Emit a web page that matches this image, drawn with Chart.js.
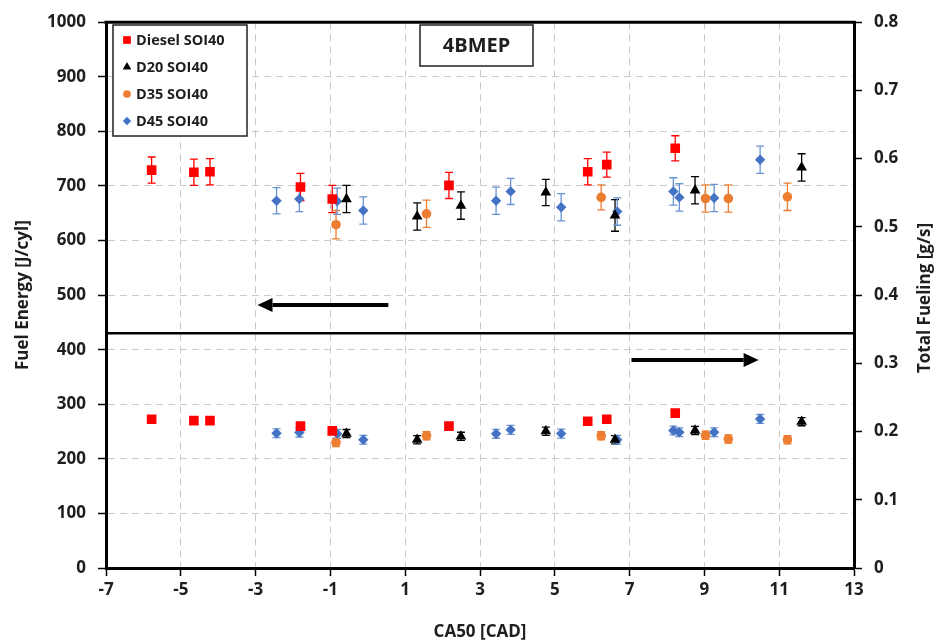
<!DOCTYPE html>
<html>
<head>
<meta charset="utf-8">
<title>CA50 - Fuel Energy / Total Fueling</title>
<script src="https://cdn.jsdelivr.net/npm/chart.js@4.4.0/dist/chart.umd.min.js"></script>
<style>
    html, body { margin: 0; padding: 0; background: #fff; }
</style>
</head>
<body>
<canvas id="fuel-chart" width="937" height="642"></canvas>
<script>
// ---- data (CA50 in CAD, energy in J/cyl, fueling in g/s) ----
const dieselCA50 = [-5.78, -4.65, -4.22, -1.80, -0.95, 2.17, 5.88, 6.39, 8.22];
const dieselEnergy = [729, 725, 726, 698, 676, 701, 726, 739, 769];
const dieselEnergyErr = [24, 24, 24, 25, 25, 24, 24, 23, 23];
const dieselFueling = [0.218, 0.216, 0.216, 0.208, 0.201, 0.208, 0.215, 0.218, 0.227];
const dieselFuelingErr = [0.004, 0.004, 0.004, 0.004, 0.004, 0.004, 0.004, 0.004, 0.004];

const d20CA50 = [-0.57, 1.32, 2.49, 4.76, 6.61, 8.75, 11.60];
const d20Energy = [676, 644, 664, 688, 646, 692, 734];
const d20EnergyErr = [25, 25, 25, 24, 29, 25, 25];
const d20Fueling = [0.197, 0.188, 0.193, 0.2005, 0.188, 0.2015, 0.2145];
const d20FuelingErr = [0.006, 0.006, 0.006, 0.006, 0.006, 0.006, 0.006];

const d35CA50 = [-0.85, 1.57, 6.24, 9.03, 9.64, 11.22];
const d35Energy = [629, 649, 679, 677, 677, 680];
const d35EnergyErr = [26, 25, 23, 25, 25, 25];
const d35Fueling = [0.184, 0.194, 0.194, 0.1945, 0.189, 0.188];
const d35FuelingErr = [0.006, 0.006, 0.006, 0.006, 0.006, 0.006];

const d45CA50 = [-2.44, -1.83, -0.82, -0.12, 3.43, 3.82, 5.17, 6.67, 8.17, 8.33, 9.26, 10.49];
const d45Energy = [673, 676, 672, 655, 673, 690, 661, 653, 690, 679, 678, 748];
const d45EnergyErr = [24, 23, 24, 25, 25, 24, 25, 25, 25, 25, 25, 25];
const d45Fueling = [0.1975, 0.1985, 0.1967, 0.188, 0.1967, 0.2025, 0.197, 0.188, 0.2015, 0.199, 0.199, 0.2185];
const d45FuelingErr = [0.0065, 0.0065, 0.0065, 0.0065, 0.0065, 0.0065, 0.0065, 0.0065, 0.0065, 0.0065, 0.0065, 0.0065];

// ---- axes ----
const xTicks = [-7, -5, -3, -1, 1, 3, 5, 7, 9, 11, 13];
const energyTicks = [0, 100, 200, 300, 400, 500, 600, 700, 800, 900, 1000];
const fuelingTicks = [0, 0.1, 0.2, 0.3, 0.4, 0.5, 0.6, 0.7, 0.8];

// panel divider (J/cyl) and the two direction arrows [x tail, x head, y]
const dividerEnergy = 430;
const energyArrow = [0.55, -2.95, 482];
const fuelingArrow = [7.05, 10.45, 0.305];

const FONT = '"Open Sans", Lato, sans-serif';
const TXT = '#1e1e1e';

function toPoints(xs, ys) {
    return xs.map((x, i) => ({ x: x, y: ys[i] }));
}

const series = [
    { label: 'Diesel SOI40', style: 'rect', r: 6.8, color: '#FF0000', bar: '#FF0000',
      x: dieselCA50, e: dieselEnergy, eErr: dieselEnergyErr, f: dieselFueling, fErr: dieselFuelingErr },
    { label: 'D20 SOI40', style: 'triangle', r: 6.2, color: '#000000', bar: '#000000',
      x: d20CA50, e: d20Energy, eErr: d20EnergyErr, f: d20Fueling, fErr: d20FuelingErr },
    { label: 'D35 SOI40', style: 'circle', r: 4.8, color: '#ED7D31', bar: '#ED7D31',
      x: d35CA50, e: d35Energy, eErr: d35EnergyErr, f: d35Fueling, fErr: d35FuelingErr },
    { label: 'D45 SOI40', style: 'rectRot', r: 5.2, color: '#4472C4', bar: '#6A93D4',
      x: d45CA50, e: d45Energy, eErr: d45EnergyErr, f: d45Fueling, fErr: d45FuelingErr }
];

const datasets = [];
series.forEach(s => {
    datasets.push({
        label: s.label, yAxisID: 'y', data: toPoints(s.x, s.e), errors: s.eErr, barColor: s.bar,
        pointStyle: s.style, pointRadius: s.r, pointHoverRadius: s.r,
        backgroundColor: s.color, borderColor: s.color, borderWidth: 0
    });
    datasets.push({
        label: s.label + ' fueling', yAxisID: 'y2', data: toPoints(s.x, s.f), errors: s.fErr, barColor: s.bar,
        pointStyle: s.style, pointRadius: s.r, pointHoverRadius: s.r,
        backgroundColor: s.color, borderColor: s.color, borderWidth: 0
    });
});

// vertical error bars with caps, drawn under the markers
const errorBars = {
    id: 'errorBars',
    beforeDatasetsDraw(chart) {
        const ctx = chart.ctx;
        chart.data.datasets.forEach((ds, di) => {
            if (!ds.errors) return;
            const meta = chart.getDatasetMeta(di);
            const ys = chart.scales[ds.yAxisID];
            ctx.save();
            ctx.strokeStyle = ds.barColor;
            ctx.lineWidth = 1.3;
            meta.data.forEach((pt, i) => {
                const v = ds.data[i].y;
                const err = ds.errors[i];
                const top = ys.getPixelForValue(v + err);
                const bot = ys.getPixelForValue(v - err);
                const x = pt.x;
                ctx.beginPath();
                ctx.moveTo(x, top); ctx.lineTo(x, bot);
                ctx.moveTo(x - 4, top); ctx.lineTo(x + 4, top);
                ctx.moveTo(x - 4, bot); ctx.lineTo(x + 4, bot);
                ctx.stroke();
            });
            ctx.restore();
        });
    }
};

function drawArrow(ctx, x1, x2, y) {
    const dir = x2 > x1 ? 1 : -1;
    const headLen = 15, headHalf = 7;
    ctx.beginPath();
    ctx.moveTo(x1, y);
    ctx.lineTo(x2 - dir * headLen, y);
    ctx.stroke();
    ctx.beginPath();
    ctx.moveTo(x2, y);
    ctx.lineTo(x2 - dir * headLen, y - headHalf);
    ctx.lineTo(x2 - dir * headLen, y + headHalf);
    ctx.closePath();
    ctx.fill();
}

// frame, divider, arrows, title box, legend and right axis title
const decorations = {
    id: 'decorations',
    afterDraw(chart) {
        const ctx = chart.ctx;
        const area = chart.chartArea;
        const sx = chart.scales.x, sy = chart.scales.y, sy2 = chart.scales.y2;
        ctx.save();
        ctx.strokeStyle = '#000';
        ctx.fillStyle = '#000';

        // top edge of the plot frame
        ctx.lineWidth = 3;
        ctx.beginPath();
        ctx.moveTo(area.left - 1.5, area.top);
        ctx.lineTo(area.right + 1.5, area.top);
        ctx.stroke();

        // divider between energy and fueling panels
        const dy = sy.getPixelForValue(dividerEnergy);
        ctx.lineWidth = 2.5;
        ctx.beginPath();
        ctx.moveTo(area.left, dy);
        ctx.lineTo(area.right, dy);
        ctx.stroke();

        // arrows
        ctx.lineWidth = 4;
        drawArrow(ctx, sx.getPixelForValue(energyArrow[0]), sx.getPixelForValue(energyArrow[1]),
            sy.getPixelForValue(energyArrow[2]));
        drawArrow(ctx, sx.getPixelForValue(fuelingArrow[0]), sx.getPixelForValue(fuelingArrow[1]),
            sy2.getPixelForValue(fuelingArrow[2]));

        // title box
        ctx.fillStyle = '#fff';
        ctx.fillRect(420, 25, 113, 41);
        ctx.lineWidth = 1.5;
        ctx.strokeStyle = '#222';
        ctx.strokeRect(420, 25, 113, 41);
        ctx.fillStyle = TXT;
        ctx.font = 'bold 20px ' + FONT;
        ctx.textAlign = 'center';
        ctx.textBaseline = 'middle';
        ctx.fillText('4BMEP', 476.5, 46);

        // legend
        ctx.fillStyle = '#fff';
        ctx.fillRect(113, 25, 134, 111);
        ctx.strokeRect(113, 25, 134, 111);
        ctx.font = 'bold 14.5px ' + FONT;
        ctx.textAlign = 'left';
        series.forEach((s, i) => {
            const y = 40 + i * 27;
            ctx.fillStyle = s.color;
            Chart.helpers.drawPoint(ctx, {
                pointStyle: s.style, radius: s.r * 0.8, rotation: 0, borderWidth: 0
            }, 127, y);
            ctx.fillStyle = TXT;
            ctx.fillText(s.label, 136, y + 1);
        });

        // right axis title, reading bottom to top
        ctx.save();
        ctx.translate(925, 298);
        ctx.rotate(-Math.PI / 2);
        ctx.fillStyle = TXT;
        ctx.font = 'bold 17px ' + FONT;
        ctx.textAlign = 'center';
        ctx.textBaseline = 'middle';
        ctx.fillText('Total Fueling [g/s]', 0, 0);
        ctx.restore();

        ctx.restore();
    }
};

const gridStyle = { color: '#c9c9c9', lineWidth: 1, tickColor: '#000', tickWidth: 1.5, tickLength: 8, tickBorderDash: [] };
const tickFont = { family: FONT, weight: 'bold', size: 17 };
const titleFont = { family: FONT, weight: 'bold', size: 17 };
const plainNumber = (v) => String(v);

new Chart(document.getElementById('fuel-chart'), {
    type: 'scatter',
    data: { datasets: datasets },
    options: {
        responsive: false,
        animation: false,
        layout: { padding: { top: 20, left: 0, right: 0, bottom: 0 } },
        plugins: {
            legend: { display: false },
            tooltip: { enabled: false }
        },
        scales: {
            x: {
                type: 'linear',
                min: xTicks[0],
                max: xTicks[xTicks.length - 1],
                afterBuildTicks: (scale) => { scale.ticks = xTicks.map(v => ({ value: v })); },
                afterFit: (scale) => { scale.height = 74; },
                grid: gridStyle,
                border: { display: true, color: '#000', width: 3, dash: [7, 5] },
                ticks: { font: tickFont, color: TXT, padding: 4, maxRotation: 0, callback: plainNumber },
                title: {
                    display: true, text: 'CA50 [CAD]', color: TXT,
                    font: titleFont,
                    padding: { top: 0, bottom: 0 }
                }
            },
            y: {
                position: 'left',
                min: energyTicks[0],
                max: energyTicks[energyTicks.length - 1],
                afterBuildTicks: (scale) => { scale.ticks = energyTicks.map(v => ({ value: v })); },
                afterFit: (scale) => { scale.width = 106; },
                grid: gridStyle,
                border: { display: true, color: '#000', width: 3, dash: [7, 5] },
                ticks: { font: tickFont, color: TXT, padding: 12, callback: plainNumber },
                title: {
                    display: true, text: 'Fuel Energy [J/cyl]', color: TXT,
                    font: titleFont,
                    padding: { top: 13, bottom: 0 }
                }
            },
            y2: {
                position: 'right',
                min: fuelingTicks[0],
                max: fuelingTicks[fuelingTicks.length - 1],
                afterBuildTicks: (scale) => { scale.ticks = fuelingTicks.map(v => ({ value: v })); },
                afterFit: (scale) => { scale.width = 83; },
                grid: Object.assign({}, gridStyle, { drawOnChartArea: false }),
                border: { display: true, color: '#000', width: 3 },
                ticks: { font: tickFont, color: TXT, padding: 12, callback: plainNumber }
            }
        }
    },
    plugins: [errorBars, decorations]
});
</script>
</body>
</html>
